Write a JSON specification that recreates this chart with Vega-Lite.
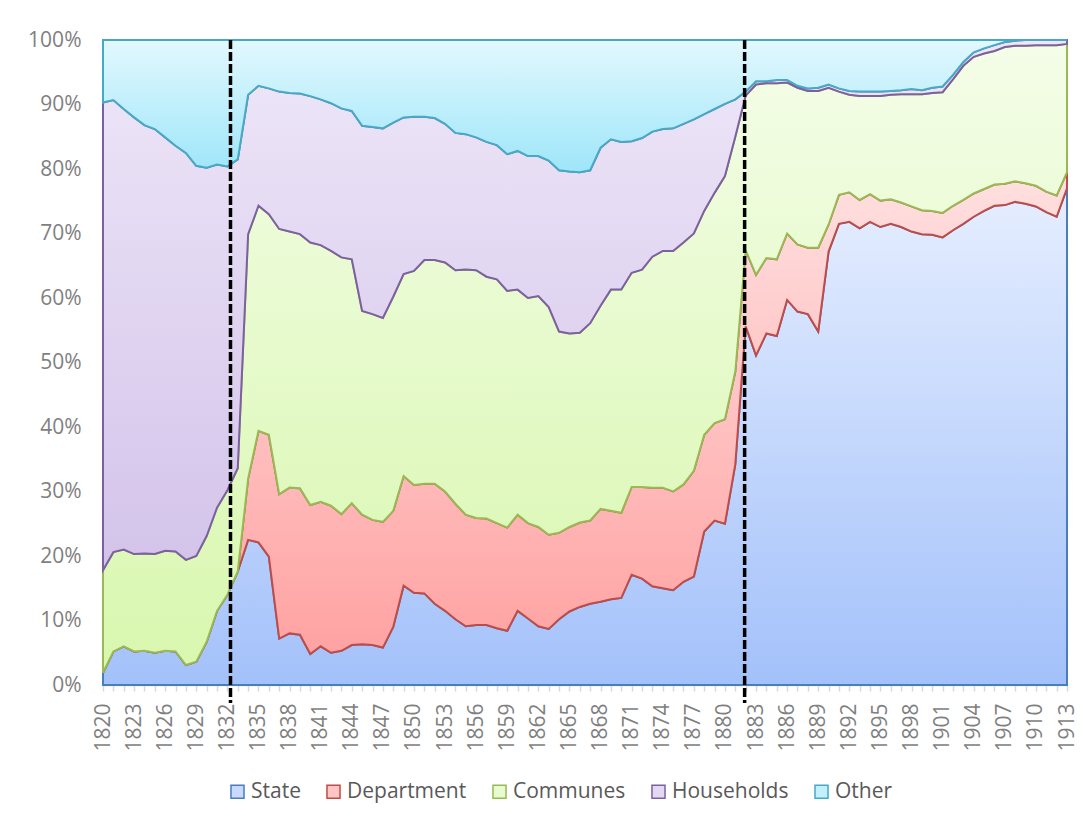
{
  "$schema": "https://vega.github.io/schema/vega-lite/v6.json",
  "width": 964,
  "height": 645,
  "autosize": "none",
  "padding": {"left": 103, "top": 40, "right": 16, "bottom": 135},
  "background": "white",
  "config": {"view": {"stroke": null}, "font": "Open Sans"},
  "datasets": {
    "shares": [
      {"year":1820,"State":1.9,"Department":0,"Communes":15.9,"Households":72.5,"Other":9.7},
      {"year":1821,"State":5.2,"Department":0,"Communes":15.4,"Households":70.1,"Other":9.3},
      {"year":1822,"State":6.0,"Department":0,"Communes":15.0,"Households":68.3,"Other":10.7},
      {"year":1823,"State":5.2,"Department":0,"Communes":15.1,"Households":67.7,"Other":12.0},
      {"year":1824,"State":5.3,"Department":0,"Communes":15.1,"Households":66.4,"Other":13.2},
      {"year":1825,"State":5.0,"Department":0,"Communes":15.3,"Households":65.9,"Other":13.8},
      {"year":1826,"State":5.3,"Department":0,"Communes":15.5,"Households":64.1,"Other":15.1},
      {"year":1827,"State":5.2,"Department":0,"Communes":15.5,"Households":62.9,"Other":16.4},
      {"year":1828,"State":3.1,"Department":0,"Communes":16.3,"Households":63.1,"Other":17.5},
      {"year":1829,"State":3.6,"Department":0,"Communes":16.4,"Households":60.5,"Other":19.5},
      {"year":1830,"State":6.7,"Department":0,"Communes":16.4,"Households":57.1,"Other":19.8},
      {"year":1831,"State":11.5,"Department":0,"Communes":16.0,"Households":53.2,"Other":19.3},
      {"year":1832,"State":14.0,"Department":0,"Communes":16.2,"Households":50.2,"Other":19.6},
      {"year":1833,"State":17.6,"Department":0,"Communes":16.0,"Households":47.9,"Other":18.5},
      {"year":1834,"State":22.5,"Department":9.5,"Communes":37.9,"Households":21.6,"Other":8.5},
      {"year":1835,"State":22.1,"Department":17.3,"Communes":34.9,"Households":18.6,"Other":7.1},
      {"year":1836,"State":19.9,"Department":18.9,"Communes":34.2,"Households":19.5,"Other":7.5},
      {"year":1837,"State":7.2,"Department":22.4,"Communes":41.1,"Households":21.3,"Other":8.0},
      {"year":1838,"State":8.0,"Department":22.6,"Communes":39.7,"Households":21.5,"Other":8.2},
      {"year":1839,"State":7.8,"Department":22.7,"Communes":39.4,"Households":21.8,"Other":8.3},
      {"year":1840,"State":4.8,"Department":23.1,"Communes":40.7,"Households":22.7,"Other":8.7},
      {"year":1841,"State":6.0,"Department":22.4,"Communes":39.8,"Households":22.6,"Other":9.2},
      {"year":1842,"State":5.0,"Department":22.8,"Communes":39.5,"Households":22.9,"Other":9.8},
      {"year":1843,"State":5.3,"Department":21.2,"Communes":39.8,"Households":23.1,"Other":10.6},
      {"year":1844,"State":6.2,"Department":22.0,"Communes":37.8,"Households":23.0,"Other":11.0},
      {"year":1845,"State":6.3,"Department":20.1,"Communes":31.6,"Households":28.7,"Other":13.3},
      {"year":1846,"State":6.2,"Department":19.4,"Communes":31.9,"Households":29.0,"Other":13.5},
      {"year":1847,"State":5.8,"Department":19.5,"Communes":31.6,"Households":29.4,"Other":13.7},
      {"year":1848,"State":9.0,"Department":18.0,"Communes":33.2,"Households":27.0,"Other":12.8},
      {"year":1849,"State":15.4,"Department":17.0,"Communes":31.3,"Households":24.3,"Other":12.0},
      {"year":1850,"State":14.3,"Department":16.7,"Communes":33.2,"Households":23.9,"Other":11.9},
      {"year":1851,"State":14.2,"Department":17.0,"Communes":34.7,"Households":22.2,"Other":11.9},
      {"year":1852,"State":12.6,"Department":18.6,"Communes":34.7,"Households":22.0,"Other":12.1},
      {"year":1853,"State":11.5,"Department":18.5,"Communes":35.5,"Households":21.5,"Other":13.0},
      {"year":1854,"State":10.2,"Department":17.9,"Communes":36.2,"Households":21.3,"Other":14.4},
      {"year":1855,"State":9.1,"Department":17.3,"Communes":38.0,"Households":21.0,"Other":14.6},
      {"year":1856,"State":9.3,"Department":16.6,"Communes":38.4,"Households":20.6,"Other":15.1},
      {"year":1857,"State":9.3,"Department":16.5,"Communes":37.5,"Households":20.9,"Other":15.8},
      {"year":1858,"State":8.8,"Department":16.3,"Communes":37.8,"Households":20.8,"Other":16.3},
      {"year":1859,"State":8.4,"Department":16.0,"Communes":36.7,"Households":21.2,"Other":17.7},
      {"year":1860,"State":11.5,"Department":14.9,"Communes":34.9,"Households":21.5,"Other":17.2},
      {"year":1861,"State":10.3,"Department":14.8,"Communes":34.9,"Households":22.0,"Other":18.0},
      {"year":1862,"State":9.1,"Department":15.4,"Communes":35.8,"Households":21.7,"Other":18.0},
      {"year":1863,"State":8.7,"Department":14.6,"Communes":35.3,"Households":22.7,"Other":18.7},
      {"year":1864,"State":10.2,"Department":13.4,"Communes":31.2,"Households":25.0,"Other":20.2},
      {"year":1865,"State":11.4,"Department":13.1,"Communes":30.0,"Households":25.1,"Other":20.4},
      {"year":1866,"State":12.1,"Department":13.1,"Communes":29.4,"Households":24.9,"Other":20.5},
      {"year":1867,"State":12.6,"Department":12.9,"Communes":30.6,"Households":23.7,"Other":20.2},
      {"year":1868,"State":12.9,"Department":14.4,"Communes":31.5,"Households":24.5,"Other":16.7},
      {"year":1869,"State":13.3,"Department":13.7,"Communes":34.3,"Households":23.3,"Other":15.4},
      {"year":1870,"State":13.5,"Department":13.2,"Communes":34.6,"Households":22.9,"Other":15.8},
      {"year":1871,"State":17.1,"Department":13.6,"Communes":33.2,"Households":20.4,"Other":15.7},
      {"year":1872,"State":16.5,"Department":14.2,"Communes":33.7,"Households":20.4,"Other":15.2},
      {"year":1873,"State":15.3,"Department":15.3,"Communes":35.8,"Households":19.4,"Other":14.2},
      {"year":1874,"State":15.0,"Department":15.6,"Communes":36.7,"Households":18.9,"Other":13.8},
      {"year":1875,"State":14.7,"Department":15.3,"Communes":37.3,"Households":19.0,"Other":13.7},
      {"year":1876,"State":16.0,"Department":15.1,"Communes":37.5,"Households":18.4,"Other":13.0},
      {"year":1877,"State":16.8,"Department":16.4,"Communes":36.8,"Households":17.7,"Other":12.3},
      {"year":1878,"State":23.8,"Department":15.0,"Communes":34.7,"Households":15.0,"Other":11.5},
      {"year":1879,"State":25.5,"Department":15.1,"Communes":35.7,"Households":13.0,"Other":10.7},
      {"year":1880,"State":25.0,"Department":16.2,"Communes":37.7,"Households":11.2,"Other":9.9},
      {"year":1881,"State":34.2,"Department":14.4,"Communes":36.4,"Households":5.8,"Other":9.2},
      {"year":1882,"State":55.6,"Department":11.8,"Communes":24.0,"Households":0.6,"Other":8.0},
      {"year":1883,"State":51.1,"Department":12.5,"Communes":29.5,"Households":0.5,"Other":6.4},
      {"year":1884,"State":54.5,"Department":11.7,"Communes":27.1,"Households":0.3,"Other":6.4},
      {"year":1885,"State":54.1,"Department":11.9,"Communes":27.3,"Households":0.5,"Other":6.2},
      {"year":1886,"State":59.7,"Department":10.3,"Communes":23.4,"Households":0.4,"Other":6.2},
      {"year":1887,"State":57.9,"Department":10.4,"Communes":24.3,"Households":0.3,"Other":7.1},
      {"year":1888,"State":57.5,"Department":10.3,"Communes":24.3,"Households":0.4,"Other":7.5},
      {"year":1889,"State":54.8,"Department":13.0,"Communes":24.3,"Households":0.5,"Other":7.4},
      {"year":1890,"State":67.2,"Department":4.2,"Communes":21.2,"Households":0.5,"Other":6.9},
      {"year":1891,"State":71.5,"Department":4.5,"Communes":16.0,"Households":0.5,"Other":7.5},
      {"year":1892,"State":71.8,"Department":4.6,"Communes":15.1,"Households":0.6,"Other":7.9},
      {"year":1893,"State":70.8,"Department":4.4,"Communes":16.1,"Households":0.7,"Other":8.0},
      {"year":1894,"State":71.8,"Department":4.3,"Communes":15.2,"Households":0.7,"Other":8.0},
      {"year":1895,"State":71.0,"Department":4.1,"Communes":16.2,"Households":0.7,"Other":8.0},
      {"year":1896,"State":71.5,"Department":3.8,"Communes":16.2,"Households":0.6,"Other":7.9},
      {"year":1897,"State":71.0,"Department":3.8,"Communes":16.8,"Households":0.6,"Other":7.8},
      {"year":1898,"State":70.3,"Department":3.9,"Communes":17.4,"Households":0.8,"Other":7.6},
      {"year":1899,"State":69.9,"Department":3.7,"Communes":18.0,"Households":0.6,"Other":7.8},
      {"year":1900,"State":69.8,"Department":3.7,"Communes":18.3,"Households":0.8,"Other":7.4},
      {"year":1901,"State":69.4,"Department":3.8,"Communes":18.7,"Households":0.9,"Other":7.2},
      {"year":1902,"State":70.5,"Department":3.8,"Communes":19.6,"Households":0.7,"Other":5.4},
      {"year":1903,"State":71.5,"Department":3.7,"Communes":20.8,"Households":0.6,"Other":3.4},
      {"year":1904,"State":72.6,"Department":3.6,"Communes":21.2,"Households":0.7,"Other":1.9},
      {"year":1905,"State":73.5,"Department":3.4,"Communes":21.0,"Households":0.8,"Other":1.3},
      {"year":1906,"State":74.3,"Department":3.3,"Communes":20.7,"Households":0.9,"Other":0.8},
      {"year":1907,"State":74.4,"Department":3.3,"Communes":21.2,"Households":0.8,"Other":0.3},
      {"year":1908,"State":74.9,"Department":3.2,"Communes":21.0,"Households":0.8,"Other":0.1},
      {"year":1909,"State":74.6,"Department":3.2,"Communes":21.3,"Households":0.9,"Other":0.0},
      {"year":1910,"State":74.2,"Department":3.2,"Communes":21.8,"Households":0.8,"Other":0.0},
      {"year":1911,"State":73.3,"Department":3.2,"Communes":22.7,"Households":0.8,"Other":0.0},
      {"year":1912,"State":72.6,"Department":3.3,"Communes":23.3,"Households":0.8,"Other":0.0},
      {"year":1913,"State":77.0,"Department":2.5,"Communes":19.9,"Households":0.6,"Other":0.0}
    ],
    "rank": [
      {"sector":"State","rank":1},
      {"sector":"Department","rank":2},
      {"sector":"Communes","rank":3},
      {"sector":"Households","rank":4},
      {"sector":"Other","rank":5}
    ],
    "breaks": [{"year":1832.3},{"year":1881.9}]
  },
  "encoding": {
    "x": {
      "field": "year", "type": "quantitative",
      "scale": {"domain": [1820, 1913], "nice": false, "zero": false},
      "axis": {
        "title": null, "grid": false,
        "values": [1820,1821,1822,1823,1824,1825,1826,1827,1828,1829,1830,1831,1832,1833,1834,1835,1836,1837,1838,1839,1840,1841,1842,1843,1844,1845,1846,1847,1848,1849,1850,1851,1852,1853,1854,1855,1856,1857,1858,1859,1860,1861,1862,1863,1864,1865,1866,1867,1868,1869,1870,1871,1872,1873,1874,1875,1876,1877,1878,1879,1880,1881,1882,1883,1884,1885,1886,1887,1888,1889,1890,1891,1892,1893,1894,1895,1896,1897,1898,1899,1900,1901,1902,1903,1904,1905,1906,1907,1908,1909,1910,1911,1912,1913],
        "format": "d",
        "labelExpr": "(datum.value - 1820) % 3 === 0 ? datum.label : ''",
        "labelOverlap": false,
        "labelAngle": 270, "labelAlign": "right", "labelBaseline": "middle",
        "labelFontSize": 21, "labelColor": "#7f7f7f", "labelPadding": 12,
        "tickSize": 6, "tickColor": "#d9d9d9", "tickWidth": 1.5,
        "domainColor": "#d9d9d9", "domainWidth": 1.5
      }
    }
  },
  "layer": [
    {
      "data": {"name": "shares"},
      "transform": [
        {"fold": ["State","Department","Communes","Households","Other"], "as": ["sector","value"]},
        {"lookup": "sector", "from": {"data": {"name": "rank"}, "key": "sector", "fields": ["rank"]}},
        {"stack": "value", "groupby": ["year"], "sort": [{"field": "rank", "order": "ascending"}], "offset": "normalize", "as": ["v0", "v1"]}
      ],
      "mark": {"type": "area", "strokeWidth": 2, "fillOpacity": 1},
      "encoding": {
        "y": {
          "field": "v1", "type": "quantitative",
          "scale": {"domain": [0, 1], "nice": false},
          "axis": {
            "title": null, "grid": false, "domain": false, "ticks": false, "tickSize": 0,
            "values": [0,0.1,0.2,0.3,0.4,0.5,0.6,0.7,0.8,0.9,1],
            "format": ".0%", "labelFontSize": 21, "labelColor": "#7f7f7f", "labelPadding": 22
          }
        },
        "y2": {"field": "v0"},
        "color": {
          "field": "sector", "type": "nominal",
          "scale": {
            "domain": ["State","Department","Communes","Households","Other"],
            "range": ["#c8d9fd","#ffc4c4","#e8fbd0","#e3d8f2","#c4effc"]
          },
          "legend": {
            "orient": "none", "legendX": 124, "legendY": 741, "direction": "horizontal",
            "title": null, "symbolType": "square", "symbolSize": 170, "symbolStrokeWidth": 1.5,
            "labelFontSize": 21, "labelColor": "#595959", "labelOffset": 3, "columnPadding": 22, "padding": 0
          }
        },
        "stroke": {
          "field": "sector", "type": "nominal",
          "scale": {
            "domain": ["State","Department","Communes","Households","Other"],
            "range": ["#4a7ebb","#be4b48","#98b954","#7d60a0","#46aac5"]
          },
          "legend": {
            "orient": "none", "legendX": 124, "legendY": 741, "direction": "horizontal",
            "title": null, "symbolType": "square", "symbolSize": 170, "symbolStrokeWidth": 1.5,
            "labelFontSize": 21, "labelColor": "#595959", "labelOffset": 3, "columnPadding": 22, "padding": 0
          }
        }
      }
    },
    {
      "data": {"name": "shares"},
      "transform": [
        {"fold": ["State","Department","Communes","Households","Other"], "as": ["sector","value"]},
        {"lookup": "sector", "from": {"data": {"name": "rank"}, "key": "sector", "fields": ["rank"]}},
        {"stack": "value", "groupby": ["year"], "sort": [{"field": "rank", "order": "ascending"}], "offset": "normalize", "as": ["v0", "v1"]},
        {"filter": "datum.sector === 'State'"}
      ],
      "mark": {"type": "area", "stroke": "#4a7ebb", "strokeWidth": 2,
        "fill": {"gradient": "linear", "x1": 0, "y1": 0, "x2": 0, "y2": 1, "stops": [{"offset": 0, "color": "#e6eeff"}, {"offset": 1, "color": "#a3c1fa"}]}},
      "encoding": {
        "y": {"field": "v1", "type": "quantitative", "title": null},
        "y2": {"field": "v0"}
      }
    },
    {
      "data": {"name": "shares"},
      "transform": [
        {"fold": ["State","Department","Communes","Households","Other"], "as": ["sector","value"]},
        {"lookup": "sector", "from": {"data": {"name": "rank"}, "key": "sector", "fields": ["rank"]}},
        {"stack": "value", "groupby": ["year"], "sort": [{"field": "rank", "order": "ascending"}], "offset": "normalize", "as": ["v0", "v1"]},
        {"filter": "datum.sector === 'Department'"}
      ],
      "mark": {"type": "area", "stroke": "#be4b48", "strokeWidth": 2,
        "fill": {"gradient": "linear", "x1": 0, "y1": 0, "x2": 0, "y2": 1, "stops": [{"offset": 0, "color": "#ffe0e0"}, {"offset": 1, "color": "#ffa0a0"}]}},
      "encoding": {
        "y": {"field": "v1", "type": "quantitative", "title": null},
        "y2": {"field": "v0"}
      }
    },
    {
      "data": {"name": "shares"},
      "transform": [
        {"fold": ["State","Department","Communes","Households","Other"], "as": ["sector","value"]},
        {"lookup": "sector", "from": {"data": {"name": "rank"}, "key": "sector", "fields": ["rank"]}},
        {"stack": "value", "groupby": ["year"], "sort": [{"field": "rank", "order": "ascending"}], "offset": "normalize", "as": ["v0", "v1"]},
        {"filter": "datum.sector === 'Communes'"}
      ],
      "mark": {"type": "area", "stroke": "#98b954", "strokeWidth": 2,
        "fill": {"gradient": "linear", "x1": 0, "y1": 0, "x2": 0, "y2": 1, "stops": [{"offset": 0, "color": "#f4fde8"}, {"offset": 1, "color": "#d8f7ae"}]}},
      "encoding": {
        "y": {"field": "v1", "type": "quantitative", "title": null},
        "y2": {"field": "v0"}
      }
    },
    {
      "data": {"name": "shares"},
      "transform": [
        {"fold": ["State","Department","Communes","Households","Other"], "as": ["sector","value"]},
        {"lookup": "sector", "from": {"data": {"name": "rank"}, "key": "sector", "fields": ["rank"]}},
        {"stack": "value", "groupby": ["year"], "sort": [{"field": "rank", "order": "ascending"}], "offset": "normalize", "as": ["v0", "v1"]},
        {"filter": "datum.sector === 'Households'"}
      ],
      "mark": {"type": "area", "stroke": "#7d60a0", "strokeWidth": 2,
        "fill": {"gradient": "linear", "x1": 0, "y1": 0, "x2": 0, "y2": 1, "stops": [{"offset": 0, "color": "#eee7f8"}, {"offset": 1, "color": "#d3c3ea"}]}},
      "encoding": {
        "y": {"field": "v1", "type": "quantitative", "title": null},
        "y2": {"field": "v0"}
      }
    },
    {
      "data": {"name": "shares"},
      "transform": [
        {"fold": ["State","Department","Communes","Households","Other"], "as": ["sector","value"]},
        {"lookup": "sector", "from": {"data": {"name": "rank"}, "key": "sector", "fields": ["rank"]}},
        {"stack": "value", "groupby": ["year"], "sort": [{"field": "rank", "order": "ascending"}], "offset": "normalize", "as": ["v0", "v1"]},
        {"filter": "datum.sector === 'Other'"}
      ],
      "mark": {"type": "area", "stroke": "#46aac5", "strokeWidth": 2,
        "fill": {"gradient": "linear", "x1": 0, "y1": 0, "x2": 0, "y2": 1, "stops": [{"offset": 0, "color": "#e2f8fe"}, {"offset": 1, "color": "#9ee6f9"}]}},
      "encoding": {
        "y": {"field": "v1", "type": "quantitative", "title": null},
        "y2": {"field": "v0"}
      }
    },
    {
      "data": {"name": "breaks"},
      "mark": {"type": "rule", "color": "black", "strokeWidth": 3.5, "strokeDash": [9, 3]},
      "encoding": {
        "y": {"datum": 1},
        "y2": {"datum": -0.028}
      }
    }
  ]
}
